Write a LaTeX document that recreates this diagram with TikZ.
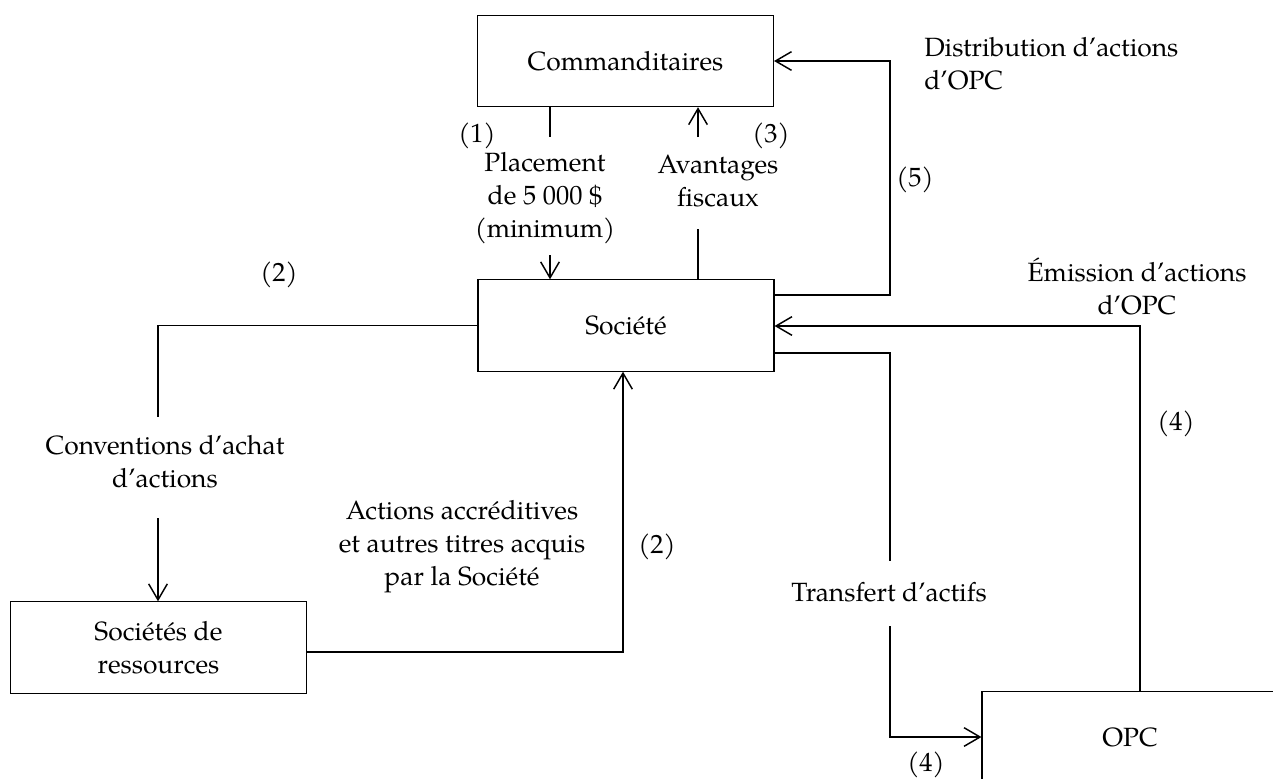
\documentclass[tikz,border=0pt]{standalone}
\usepackage{fontspec}
\setmainfont{TeX Gyre Pagella}
\usetikzlibrary{arrows.meta}
\begin{document}
\begin{tikzpicture}[x=0.75pt,y=-0.75pt,
  box/.style={draw, line width=0.8pt, minimum width=222pt, minimum height=68.5pt, inner sep=0pt, align=center, font=\fontsize{19.8pt}{24.75pt}\selectfont},
  lbl/.style={inner sep=0pt, align=center, font=\fontsize{19.8pt}{24.75pt}\selectfont},
  conn/.style={line width=1.3pt},
  arr/.style={-{Straight Barb[length=12pt,width=14pt,line width=1.1pt]}}]
\useasboundingbox (0,0) rectangle (1273,778);
\clip (0,0) rectangle (1273,778);
% boxes
\node[box] (comm) at (625.5,61) {Commanditaires};
\node[box] (soc) at (626,325.5) {Société};
\node[box] (res) at (158.5,647.5) {Sociétés de\\ressources};
\node[box] (opc) at (1130,737) {OPC};
% labels
\node[lbl] (l1) at (477,136) {(1)};
\node[lbl] (lplace) at (545,198) {Placement\\de 5~000~\$\\(minimum)};
\node[lbl] (lav) at (718,181.5) {Avantages\\fiscaux};
\node[lbl] (l3) at (771,136) {(3)};
\node[lbl] (l5) at (915,180) {(5)};
\node[lbl, anchor=west, align=left] (ldist) at (924,63.5) {Distribution d’actions\\d’OPC};
\node[lbl] (l2a) at (279,275) {(2)};
\node[lbl] (lconv) at (165,462) {Conventions d’achat\\d’actions};
\node[lbl] (lact) at (462,547) {Actions accréditives\\et autres titres acquis\\par la Société};
\node[lbl] (l2b) at (657,547) {(2)};
\node[lbl] (ltrans) at (889,592) {Transfert d’actifs};
\node[lbl] (l4a) at (926,765) {(4)};
\node[lbl] (lemi) at (1137,286.5) {Émission d’actions\\d’OPC};
\node[lbl] (l4b) at (1176,424) {(4)};
% (1) placement
\coordinate (p1a) at (550,137);
\coordinate (p1b) at (550,255);
\draw[conn] (comm.south -| p1a) -- (p1a);
\draw[conn,arr] (p1b) -- (soc.north -| p1b);
% (3) avantages
\coordinate (p3a) at (698,229);
\coordinate (p3b) at (698,137);
\draw[conn] (soc.north -| p3a) -- (p3a);
\draw[conn,arr] (p3b) -- (comm.south -| p3b);
% (5) distribution
\coordinate (k5) at (890,295);
\draw[conn,arr] (soc.east |- k5) -- (k5) -- (k5 |- comm.east) -- (comm.east);
% (2) conventions
\coordinate (k2) at (158,417);
\coordinate (k2b) at (158,518);
\draw[conn] (soc.west) -- (soc.west -| k2) -- (k2);
\draw[conn,arr] (k2b) -- (res.north -| k2b);
% (2) actions accreditives
\coordinate (k2c) at (623,652);
\draw[conn,arr] (res.east |- k2c) -- (k2c) -- (k2c |- soc.south);
% (4) transfert
\coordinate (k4a) at (890,353);
\coordinate (k4b) at (890,561);
\coordinate (k4c) at (890,626);
\draw[conn] (soc.east |- k4a) -- (k4a) -- (k4b);
\draw[conn,arr] (k4c) -- (k4c |- opc.west) -- (opc.west);
% (4) emission
\coordinate (k4d) at (1140,326);
\draw[conn,arr] (opc.north -| k4d) -- (k4d) -- (soc.east |- k4d);
\end{tikzpicture}
\end{document}
